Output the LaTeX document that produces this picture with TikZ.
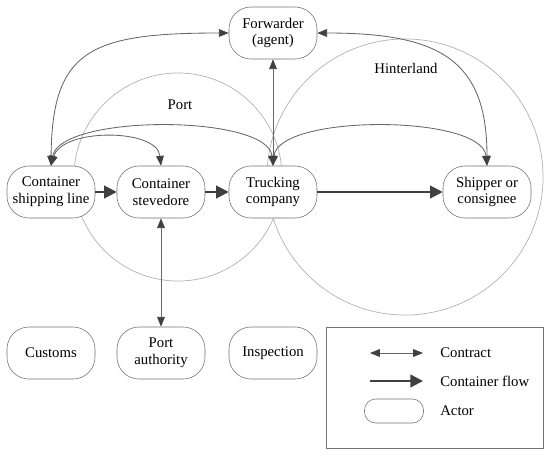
\documentclass[tikz,border=0pt]{standalone}
\usepackage{fontspec}
\setmainfont{Liberation Serif}
\usetikzlibrary{arrows.meta}

\begin{document}
\begin{tikzpicture}[
        x=0.025cm,
        y=-0.025cm,
        every node/.style={font=\fontsize{10.5}{12}\selectfont},
        actor/.style={
            draw=black!55,
            fill=white,
            rounded corners=0.55cm,
            minimum width=2.2cm,
            minimum height=1.3cm,
            align=center,
            inner sep=1pt
        },
        region/.style={draw=black!30, line width=0.5pt},
        contract/.style={
            draw=black!60,
            line width=0.6pt,
            {Triangle[length=7pt,width=5.5pt,color=black!75]}-{Triangle[length=7pt,width=5.5pt,color=black!75]}
        },
        flow/.style={
            draw=black!75,
            line width=1.6pt,
            -{Triangle[length=9pt,width=9pt]}
        },
        legend text/.style={anchor=west, inner sep=0pt}
    ]
    \useasboundingbox (0,0) rectangle (550,455);

    % Regions
    \draw[region] (178,177) circle[radius=2.6cm];
    \draw[region] (405,177) circle[radius=3.45cm];
    \node (port) at (180,105) {Port};
    \node (hinter) at (406,68) {Hinterland};

    % Actors
    \node[actor] (fw) at (273,33) {Forwarder\\(agent)};
    \node[actor] (sl) at (51,192) {Container\\shipping line};
    \node[actor] (sv) at (161,192) {Container\\stevedore};
    \node[actor] (tc) at (273,192) {Trucking\\company};
    \node[actor] (sc) at (487,192) {Shipper or\\consignee};
    \node[actor] (cu) at (51,353) {Customs};
    \node[actor] (pa) at (161,353) {Port\\authority};
    \node[actor] (in) at (273,353) {Inspection};

    % Contracts
    \draw[contract] (sl.north) .. controls (52,50) and (90,33) .. (fw.west);
    \draw[contract] (fw.east) .. controls (440,33) and (487,60) .. (sc.north);
    \draw[contract] (fw.south) -- (tc.north);
    \draw[contract] (sl.north) .. controls (62,128) and (157,128) .. (sv.north);
    \draw[contract] (sl.north) .. controls (60,114) and (268,114) .. (tc.north);
    \draw[contract] (tc.north) .. controls (278,114) and (482,114) .. (sc.north);
    \draw[contract] (sv.south) -- (pa.north);

    % Container flow
    \draw[flow] (sl) -- (sv);
    \draw[flow] (sv) -- (tc);
    \draw[flow] (tc) -- (sc);

    % Legend
    \draw[draw=black!55, line width=0.5pt] (326,327) rectangle (543,448);
    \coordinate (ca) at (370,353);
    \coordinate (cb) at (423,353);
    \coordinate (fa) at (370,381);
    \coordinate (fb) at (423,381);
    \draw[contract] (ca) -- (cb);
    \draw[flow] (fa) -- (fb);
    \node[actor, minimum width=1.475cm, minimum height=0.6cm, rounded corners=0.28cm] (act) at (394,411) {};
    \node[legend text] (lc) at (440,353) {Contract};
    \node[legend text] (lf) at (440,381) {Container flow};
    \node[legend text] (la) at (440,411) {Actor};
\end{tikzpicture}
\end{document}
